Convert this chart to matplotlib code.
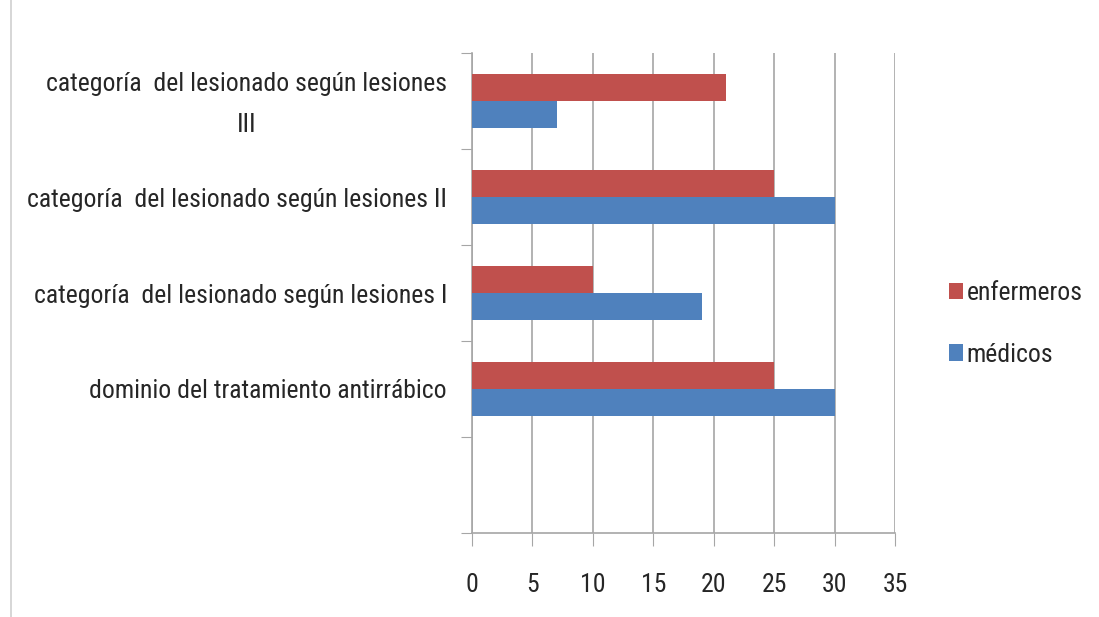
import matplotlib
matplotlib.use("Agg")
import matplotlib.pyplot as plt
import matplotlib.transforms as mtransforms
import numpy as np
from matplotlib import font_manager

# data (bottom to top)
categories = [
    "dominio del tratamiento antirrábico",
    "categoría  del lesionado según lesiones I",
    "categoría  del lesionado según lesiones II",
    "categoría  del lesionado según lesiones\nIII",
]
enfermeros = [25, 10, 25, 21]
medicos = [30, 19, 30, 7]
xticks = [0, 5, 10, 15, 20, 25, 30, 35]

# look for a narrow font, the original uses a condensed one
stretch = "normal"
fam = ["Liberation Sans", "DejaVu Sans"]
fonts = font_manager.fontManager.ttflist
names = {f.name for f in fonts}
for n in ["Roboto Condensed", "Liberation Sans Narrow", "Open Sans Condensed", "Noto Sans Condensed"]:
    if n in names:
        fam = [n, "DejaVu Sans"]
        break
else:
    if any(f.name == "DejaVu Sans" and f.stretch == "condensed" for f in fonts):
        fam = ["DejaVu Sans"]
        stretch = "condensed"
plt.rcParams["font.family"] = fam
plt.rcParams["font.stretch"] = stretch

red = "#C0504D"
blue = "#4F81BD"
grid = "#A6A6A6"
txt = "#262626"

fig = plt.figure(figsize=(10.99, 6.17), dpi=100)
ax = fig.add_axes([472 / 1099, 1 - 533 / 617, (895 - 472) / 1099, (533 - 53) / 617])

y = np.arange(len(categories))
h = 0.28
ax.barh(y + h / 2, enfermeros, height=h, color=red, label="enfermeros", zorder=3)
ax.barh(y - h / 2, medicos, height=h, color=blue, label="médicos", zorder=3)

ax.set_xlim(0, 35)
ax.set_ylim(-1.5, 3.5)
ax.set_xticks(xticks)
ax.set_xticklabels([str(v) for v in xticks], fontsize=18.5, color=txt)
ax.tick_params(axis="x", length=9, color=grid, pad=20)

ax.set_yticks(np.arange(-1.5, 3.6, 1.0))
ax.set_yticklabels([])
ax.tick_params(axis="y", which="major", length=8, color=grid)
ax.set_yticks(y, minor=True)
ax.set_yticklabels(categories, minor=True, fontsize=18.5, color=txt,
                   multialignment="center", linespacing=1.85)
ax.tick_params(axis="y", which="minor", length=0, pad=18)

# the two-line label sits a bit higher in the original
shift = mtransforms.ScaledTranslation(0, 7 / 100, fig.dpi_scale_trans)
for lab in ax.get_yticklabels(minor=True):
    if "\n" in lab.get_text():
        lab.set_transform(lab.get_transform() + shift)

ax.grid(axis="x", color=grid, linewidth=1.2, zorder=0)
for s in ["top", "right"]:
    ax.spines[s].set_visible(False)
for s in ["left", "bottom"]:
    ax.spines[s].set_color(grid)
    ax.spines[s].set_linewidth(1.2)

handles, labels = ax.get_legend_handles_labels()
leg = fig.legend(handles, labels, loc="center left", bbox_to_anchor=(926 / 1099, 1 - 324 / 617),
                 frameon=False, fontsize=18.5, handlelength=0.55, handleheight=0.6,
                 handletextpad=0.12, labelspacing=1.45)
for t in leg.get_texts():
    t.set_color(txt)

fig.add_artist(plt.Line2D([11 / 1099, 11 / 1099], [0, 1], color="#D0D0D0", linewidth=1.2))

fig.savefig("out.png", dpi=100)
